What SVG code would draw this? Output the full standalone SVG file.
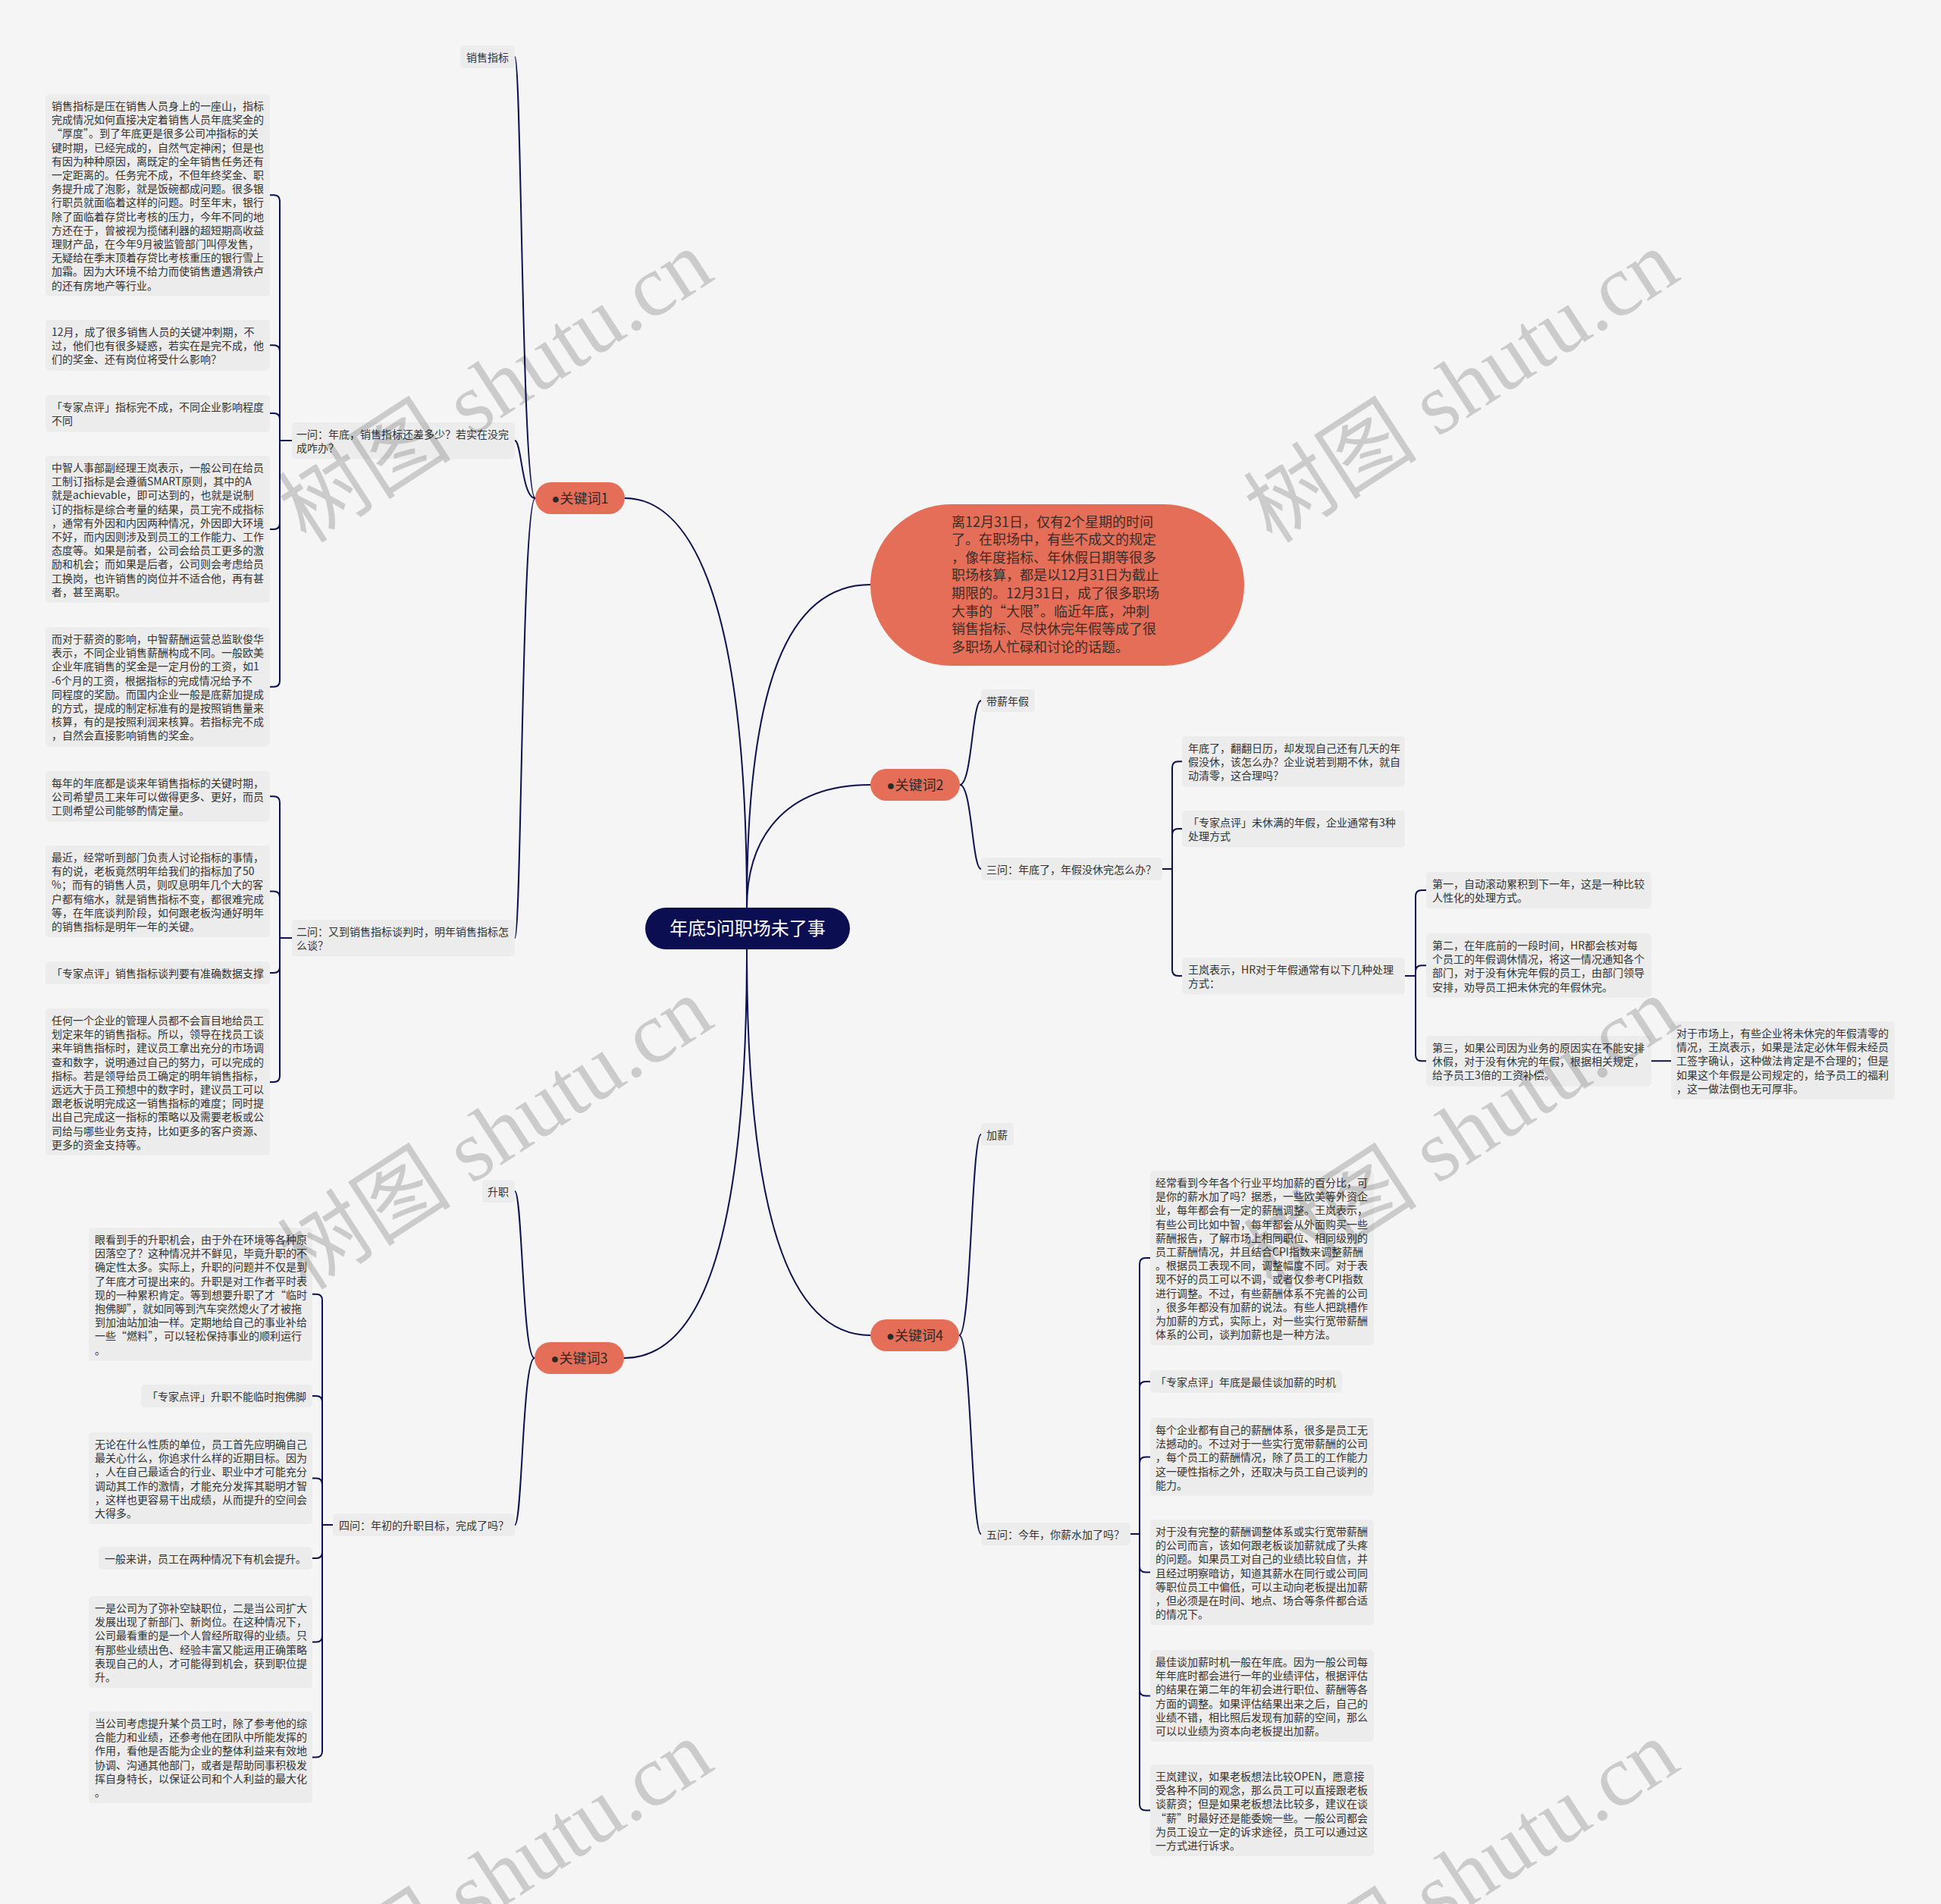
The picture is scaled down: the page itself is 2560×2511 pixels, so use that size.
<svg xmlns="http://www.w3.org/2000/svg" width="2560" height="2511" viewBox="0 0 2560 2511">
<style>
.bg{fill:#f5f5f5}
.box{fill:#ececec}
.t{font-family:"Noto Sans CJK SC","Noto Sans",sans-serif;font-size:14px;fill:#333}
.kw{fill:#e46e57}
.kt{font-family:"Noto Sans CJK SC",sans-serif;font-size:18px;fill:#2a2a2a}
.bl{font-family:"Liberation Sans",sans-serif}
.bt{font-family:"Noto Sans CJK SC",sans-serif;font-size:18px;fill:#3a2d28}
.root{fill:#0b0f52}
.rt{font-family:"Noto Sans CJK SC",sans-serif;font-size:24px;fill:#fff}
.ln{fill:none;stroke:#0e1150;stroke-width:2}
.wm{font-family:"Liberation Serif","Noto Sans CJK SC",serif;font-size:115px;fill:#000;fill-opacity:0.17}
</style>
<rect class="bg" x="0" y="0" width="2560" height="2511"/>

<g id="connectors">
<path class="ln" d="M985 1197C985 760 900 657 824 657"/>
<path class="ln" d="M985 1197C985 900 1040 771 1148 771"/>
<path class="ln" d="M985 1197C985 1110 1030 1035 1148 1035"/>
<path class="ln" d="M985 1252C985 1620 930 1791 823 1791"/>
<path class="ln" d="M985 1252C985 1600 1040 1761 1148 1761"/>
<path class="ln" d="M706 657C688 657 688 75 679 75"/>
<path class="ln" d="M706 657C688 657 688 581 679 581"/>
<path class="ln" d="M706 657C688 657 688 1237 679 1237"/>
<path class="ln" d="M1266 1035C1282 1035 1282 924 1294 924"/>
<path class="ln" d="M1266 1035C1282 1035 1282 1146 1294 1146"/>
<path class="ln" d="M705 1791C689 1791 689 1571 679 1571"/>
<path class="ln" d="M705 1791C689 1791 689 2011 679 2011"/>
<path class="ln" d="M1265 1761C1281 1761 1281 1496 1294 1496"/>
<path class="ln" d="M1265 1761C1281 1761 1281 2023 1294 2023"/>
<path class="ln" d="M385 581H369V265.3Q369 257.3 361 257.3H356"/>
<path class="ln" d="M385 581H369V463.2Q369 455.2 361 455.2H356"/>
<path class="ln" d="M385 581H369V553.1Q369 545.1 361 545.1H356"/>
<path class="ln" d="M385 581H369V689.9Q369 697.9 361 697.9H356"/>
<path class="ln" d="M385 581H369V897.7Q369 905.7 361 905.7H356"/>
<path class="ln" d="M385 1237H369V1058.2Q369 1050.2 361 1050.2H356"/>
<path class="ln" d="M385 1237H369V1183.5Q369 1175.5 361 1175.5H356"/>
<path class="ln" d="M385 1237H369V1275Q369 1283 361 1283H356"/>
<path class="ln" d="M385 1237H369V1418.9Q369 1426.9 361 1426.9H356"/>
<path class="ln" d="M439 2011H425V1714.8Q425 1706.8 417 1706.8H412"/>
<path class="ln" d="M439 2011H425V1849Q425 1841 417 1841H412"/>
<path class="ln" d="M439 2011H425V1957.5Q425 1949.5 417 1949.5H412"/>
<path class="ln" d="M439 2011H425V2047Q425 2055 417 2055H412"/>
<path class="ln" d="M439 2011H425V2157.5Q425 2165.5 417 2165.5H412"/>
<path class="ln" d="M439 2011H425V2309.5Q425 2317.5 417 2317.5H412"/>
<path class="ln" d="M1533 1146H1546V1012.2Q1546 1004.2 1554 1004.2H1559"/>
<path class="ln" d="M1533 1146H1546V1101Q1546 1093 1554 1093H1559"/>
<path class="ln" d="M1533 1146H1546V1279Q1546 1287 1554 1287H1559"/>
<path class="ln" d="M1853 1287H1867V1182Q1867 1174 1875 1174H1881"/>
<path class="ln" d="M1853 1287H1867V1281.3Q1867 1273.3 1875 1273.3H1881"/>
<path class="ln" d="M1853 1287H1867V1391.2Q1867 1399.2 1875 1399.2H1881"/>
<path class="ln" d="M2178 1399.2H2204"/>
<path class="ln" d="M1491 2023H1503V1667Q1503 1659 1511 1659H1517"/>
<path class="ln" d="M1491 2023H1503V1830Q1503 1822 1511 1822H1517"/>
<path class="ln" d="M1491 2023H1503V1929.4Q1503 1921.4 1511 1921.4H1517"/>
<path class="ln" d="M1491 2023H1503V2065.6Q1503 2073.6 1511 2073.6H1517"/>
<path class="ln" d="M1491 2023H1503V2228.5Q1503 2236.5 1511 2236.5H1517"/>
<path class="ln" d="M1491 2023H1503V2379.5Q1503 2387.5 1511 2387.5H1517"/>
</g>

<g id="n-root">
<rect class="root" x="851" y="1197" width="270" height="55" rx="27.5"/>
<text class="rt" x="986" y="1233" text-anchor="middle">年底5问职场未了事</text>
</g>

<g id="n-bubble">
<rect class="kw" x="1148" y="665" width="493" height="213" rx="106.5"/>
<text class="bt" x="1255" y="694.5"><tspan x="1255">离12月31日，仅有2个星期的时间</tspan><tspan x="1255" dy="23.6">了。在职场中，有些不成文的规定</tspan><tspan x="1255" dy="23.6">，像年度指标、年休假日期等很多</tspan><tspan x="1255" dy="23.6">职场核算，都是以12月31日为截止</tspan><tspan x="1255" dy="23.6">期限的。12月31日，成了很多职场</tspan><tspan x="1255" dy="23.6">大事的“大限”。临近年底，冲刺</tspan><tspan x="1255" dy="23.6">销售指标、尽快休完年假等成了很</tspan><tspan x="1255" dy="23.6">多职场人忙碌和讨论的话题。</tspan></text>
</g>

<g id="n-k1">
<rect class="kw" x="706" y="636" width="118" height="42" rx="21"/>
<text class="kt" x="765" y="663.5" text-anchor="middle"><tspan class="bl">●</tspan>关键词1</text>
</g>
<g id="n-k2">
<rect class="kw" x="1148" y="1014" width="118" height="42" rx="21"/>
<text class="kt" x="1207" y="1041.5" text-anchor="middle"><tspan class="bl">●</tspan>关键词2</text>
</g>
<g id="n-k3">
<rect class="kw" x="705" y="1770" width="118" height="42" rx="21"/>
<text class="kt" x="764" y="1797.5" text-anchor="middle"><tspan class="bl">●</tspan>关键词3</text>
</g>
<g id="n-k4">
<rect class="kw" x="1148" y="1740" width="117" height="42" rx="21"/>
<text class="kt" x="1206.5" y="1767.5" text-anchor="middle"><tspan class="bl">●</tspan>关键词4</text>
</g>

<g id="n-xszb">
<rect class="box" x="607" y="60" width="72" height="30" rx="5"/>
<text class="t" x="615" y="81">销售指标</text>
</g>
<g id="n-q1">
<rect class="box" x="385" y="557" width="294" height="48.2" rx="5"/>
<text class="t" x="391" y="578"><tspan x="391">一问：年底，销售指标还差多少？若实在没完</tspan><tspan x="391" dy="18.2">成咋办？</tspan></text>
</g>
<g id="n-q1-a">
<rect class="box" x="60" y="124" width="296" height="266.6" rx="5"/>
<text class="t" x="68" y="145"><tspan x="68">销售指标是压在销售人员身上的一座山，指标</tspan><tspan x="68" dy="18.2">完成情况如何直接决定着销售人员年底奖金的</tspan><tspan x="68" dy="18.2">“厚度”。到了年底更是很多公司冲指标的关</tspan><tspan x="68" dy="18.2">键时期，已经完成的，自然气定神闲；但是也</tspan><tspan x="68" dy="18.2">有因为种种原因，离既定的全年销售任务还有</tspan><tspan x="68" dy="18.2">一定距离的。任务完不成，不但年终奖金、职</tspan><tspan x="68" dy="18.2">务提升成了泡影，就是饭碗都成问题。很多银</tspan><tspan x="68" dy="18.2">行职员就面临着这样的问题。时至年末，银行</tspan><tspan x="68" dy="18.2">除了面临着存贷比考核的压力，今年不同的地</tspan><tspan x="68" dy="18.2">方还在于，曾被视为揽储利器的超短期高收益</tspan><tspan x="68" dy="18.2">理财产品，在今年9月被监管部门叫停发售，</tspan><tspan x="68" dy="18.2">无疑给在季末顶着存贷比考核重压的银行雪上</tspan><tspan x="68" dy="18.2">加霜。因为大环境不给力而使销售遭遇滑铁卢</tspan><tspan x="68" dy="18.2">的还有房地产等行业。</tspan></text>
</g>
<g id="n-q1-b">
<rect class="box" x="60" y="422" width="296" height="66.4" rx="5"/>
<text class="t" x="68" y="443"><tspan x="68">12月，成了很多销售人员的关键冲刺期，不</tspan><tspan x="68" dy="18.2">过，他们也有很多疑惑，若实在是完不成，他</tspan><tspan x="68" dy="18.2">们的奖金、还有岗位将受什么影响？</tspan></text>
</g>
<g id="n-q1-c">
<rect class="box" x="60" y="521" width="296" height="48.2" rx="5"/>
<text class="t" x="68" y="542"><tspan x="68">「专家点评」指标完不成，不同企业影响程度</tspan><tspan x="68" dy="18.2">不同</tspan></text>
</g>
<g id="n-q1-d">
<rect class="box" x="60" y="601" width="296" height="193.8" rx="5"/>
<text class="t" x="68" y="622"><tspan x="68">中智人事部副经理王岚表示，一般公司在给员</tspan><tspan x="68" dy="18.2">工制订指标是会遵循SMART原则，其中的A</tspan><tspan x="68" dy="18.2">就是achievable，即可达到的，也就是说制</tspan><tspan x="68" dy="18.2">订的指标是综合考量的结果，员工完不成指标</tspan><tspan x="68" dy="18.2">，通常有外因和内因两种情况，外因即大环境</tspan><tspan x="68" dy="18.2">不好，而内因则涉及到员工的工作能力、工作</tspan><tspan x="68" dy="18.2">态度等。如果是前者，公司会给员工更多的激</tspan><tspan x="68" dy="18.2">励和机会；而如果是后者，公司则会考虑给员</tspan><tspan x="68" dy="18.2">工换岗，也许销售的岗位并不适合他，再有甚</tspan><tspan x="68" dy="18.2">者，甚至离职。</tspan></text>
</g>
<g id="n-q1-e">
<rect class="box" x="60" y="827" width="296" height="157.4" rx="5"/>
<text class="t" x="68" y="848"><tspan x="68">而对于薪资的影响，中智薪酬运营总监耿俊华</tspan><tspan x="68" dy="18.2">表示，不同企业销售薪酬构成不同。一般欧美</tspan><tspan x="68" dy="18.2">企业年底销售的奖金是一定月份的工资，如1</tspan><tspan x="68" dy="18.2">-6个月的工资，根据指标的完成情况给予不</tspan><tspan x="68" dy="18.2">同程度的奖励。而国内企业一般是底薪加提成</tspan><tspan x="68" dy="18.2">的方式，提成的制定标准有的是按照销售量来</tspan><tspan x="68" dy="18.2">核算，有的是按照利润来核算。若指标完不成</tspan><tspan x="68" dy="18.2">，自然会直接影响销售的奖金。</tspan></text>
</g>

<g id="n-q2">
<rect class="box" x="385" y="1213" width="294" height="48.2" rx="5"/>
<text class="t" x="391" y="1234"><tspan x="391">二问：又到销售指标谈判时，明年销售指标怎</tspan><tspan x="391" dy="18.2">么谈？</tspan></text>
</g>
<g id="n-q2-a">
<rect class="box" x="60" y="1017" width="296" height="66.4" rx="5"/>
<text class="t" x="68" y="1038"><tspan x="68">每年的年底都是谈来年销售指标的关键时期，</tspan><tspan x="68" dy="18.2">公司希望员工来年可以做得更多、更好，而员</tspan><tspan x="68" dy="18.2">工则希望公司能够酌情定量。</tspan></text>
</g>
<g id="n-q2-b">
<rect class="box" x="60" y="1115" width="296" height="121" rx="5"/>
<text class="t" x="68" y="1136"><tspan x="68">最近，经常听到部门负责人讨论指标的事情，</tspan><tspan x="68" dy="18.2">有的说，老板竟然明年给我们的指标加了50</tspan><tspan x="68" dy="18.2">%；而有的销售人员，则叹息明年几个大的客</tspan><tspan x="68" dy="18.2">户都有缩水，就是销售指标不变，都很难完成</tspan><tspan x="68" dy="18.2">等，在年底谈判阶段，如何跟老板沟通好明年</tspan><tspan x="68" dy="18.2">的销售指标是明年一年的关键。</tspan></text>
</g>
<g id="n-q2-c">
<rect class="box" x="60" y="1268" width="296" height="30" rx="5"/>
<text class="t" x="68" y="1289">「专家点评」销售指标谈判要有准确数据支撑</text>
</g>
<g id="n-q2-d">
<rect class="box" x="60" y="1330" width="296" height="193.8" rx="5"/>
<text class="t" x="68" y="1351"><tspan x="68">任何一个企业的管理人员都不会盲目地给员工</tspan><tspan x="68" dy="18.2">划定来年的销售指标。所以，领导在找员工谈</tspan><tspan x="68" dy="18.2">来年销售指标时，建议员工拿出充分的市场调</tspan><tspan x="68" dy="18.2">查和数字，说明通过自己的努力，可以完成的</tspan><tspan x="68" dy="18.2">指标。若是领导给员工确定的明年销售指标，</tspan><tspan x="68" dy="18.2">远远大于员工预想中的数字时，建议员工可以</tspan><tspan x="68" dy="18.2">跟老板说明完成这一销售指标的难度；同时提</tspan><tspan x="68" dy="18.2">出自己完成这一指标的策略以及需要老板或公</tspan><tspan x="68" dy="18.2">司给与哪些业务支持，比如更多的客户资源、</tspan><tspan x="68" dy="18.2">更多的资金支持等。</tspan></text>
</g>

<g id="n-sz">
<rect class="box" x="636" y="1556" width="43" height="30" rx="5"/>
<text class="t" x="643" y="1577">升职</text>
</g>
<g id="n-q4">
<rect class="box" x="439" y="1996" width="240" height="30" rx="5"/>
<text class="t" x="447" y="2017">四问：年初的升职目标，完成了吗？</text>
</g>
<g id="n-q4-a">
<rect class="box" x="117" y="1619" width="295" height="175.6" rx="5"/>
<text class="t" x="125" y="1640"><tspan x="125">眼看到手的升职机会，由于外在环境等各种原</tspan><tspan x="125" dy="18.2">因落空了？这种情况并不鲜见，毕竟升职的不</tspan><tspan x="125" dy="18.2">确定性太多。实际上，升职的问题并不仅是到</tspan><tspan x="125" dy="18.2">了年底才可提出来的。升职是对工作者平时表</tspan><tspan x="125" dy="18.2">现的一种累积肯定。等到想要升职了才“临时</tspan><tspan x="125" dy="18.2">抱佛脚”，就如同等到汽车突然熄火了才被拖</tspan><tspan x="125" dy="18.2">到加油站加油一样。定期地给自己的事业补给</tspan><tspan x="125" dy="18.2">一些“燃料”，可以轻松保持事业的顺利运行</tspan><tspan x="125" dy="18.2">。</tspan></text>
</g>
<g id="n-q4-b">
<rect class="box" x="186" y="1826" width="226" height="30" rx="5"/>
<text class="t" x="194" y="1847">「专家点评」升职不能临时抱佛脚</text>
</g>
<g id="n-q4-c">
<rect class="box" x="117" y="1889" width="295" height="121" rx="5"/>
<text class="t" x="125" y="1910"><tspan x="125">无论在什么性质的单位，员工首先应明确自己</tspan><tspan x="125" dy="18.2">最关心什么，你追求什么样的近期目标。因为</tspan><tspan x="125" dy="18.2">，人在自己最适合的行业、职业中才可能充分</tspan><tspan x="125" dy="18.2">调动其工作的激情，才能充分发挥其聪明才智</tspan><tspan x="125" dy="18.2">，这样也更容易干出成绩，从而提升的空间会</tspan><tspan x="125" dy="18.2">大得多。</tspan></text>
</g>
<g id="n-q4-d">
<rect class="box" x="130" y="2040" width="282" height="30" rx="5"/>
<text class="t" x="138" y="2061">一般来讲，员工在两种情况下有机会提升。</text>
</g>
<g id="n-q4-e">
<rect class="box" x="117" y="2105" width="295" height="121" rx="5"/>
<text class="t" x="125" y="2126"><tspan x="125">一是公司为了弥补空缺职位，二是当公司扩大</tspan><tspan x="125" dy="18.2">发展出现了新部门、新岗位。在这种情况下，</tspan><tspan x="125" dy="18.2">公司最看重的是一个人曾经所取得的业绩。只</tspan><tspan x="125" dy="18.2">有那些业绩出色、经验丰富又能运用正确策略</tspan><tspan x="125" dy="18.2">表现自己的人，才可能得到机会，获到职位提</tspan><tspan x="125" dy="18.2">升。</tspan></text>
</g>
<g id="n-q4-f">
<rect class="box" x="117" y="2257" width="295" height="121" rx="5"/>
<text class="t" x="125" y="2278"><tspan x="125">当公司考虑提升某个员工时，除了参考他的综</tspan><tspan x="125" dy="18.2">合能力和业绩，还参考他在团队中所能发挥的</tspan><tspan x="125" dy="18.2">作用，看他是否能为企业的整体利益来有效地</tspan><tspan x="125" dy="18.2">协调、沟通其他部门，或者是帮助同事积极发</tspan><tspan x="125" dy="18.2">挥自身特长，以保证公司和个人利益的最大化</tspan><tspan x="125" dy="18.2">。</tspan></text>
</g>

<g id="n-dxnj">
<rect class="box" x="1294" y="909" width="71" height="30" rx="5"/>
<text class="t" x="1301" y="930">带薪年假</text>
</g>
<g id="n-q3">
<rect class="box" x="1294" y="1131" width="239" height="30" rx="5"/>
<text class="t" x="1301" y="1152">三问：年底了，年假没休完怎么办？</text>
</g>
<g id="n-q3-a">
<rect class="box" x="1559" y="971" width="294" height="66.4" rx="5"/>
<text class="t" x="1567" y="992"><tspan x="1567">年底了，翻翻日历，却发现自己还有几天的年</tspan><tspan x="1567" dy="18.2">假没休，该怎么办？企业说若到期不休，就自</tspan><tspan x="1567" dy="18.2">动清零，这合理吗？</tspan></text>
</g>
<g id="n-q3-b">
<rect class="box" x="1559" y="1069" width="294" height="48.2" rx="5"/>
<text class="t" x="1567" y="1090"><tspan x="1567">「专家点评」未休满的年假，企业通常有3种</tspan><tspan x="1567" dy="18.2">处理方式</tspan></text>
</g>
<g id="n-q3-c">
<rect class="box" x="1559" y="1263" width="294" height="48.2" rx="5"/>
<text class="t" x="1567" y="1284"><tspan x="1567">王岚表示，HR对于年假通常有以下几种处理</tspan><tspan x="1567" dy="18.2">方式：</tspan></text>
</g>
<g id="n-q3-c1">
<rect class="box" x="1881" y="1150" width="297" height="48.2" rx="5"/>
<text class="t" x="1889" y="1171"><tspan x="1889">第一，自动滚动累积到下一年，这是一种比较</tspan><tspan x="1889" dy="18.2">人性化的处理方式。</tspan></text>
</g>
<g id="n-q3-c2">
<rect class="box" x="1881" y="1231" width="297" height="84.6" rx="5"/>
<text class="t" x="1889" y="1252"><tspan x="1889">第二，在年底前的一段时间，HR都会核对每</tspan><tspan x="1889" dy="18.2">个员工的年假调休情况，将这一情况通知各个</tspan><tspan x="1889" dy="18.2">部门，对于没有休完年假的员工，由部门领导</tspan><tspan x="1889" dy="18.2">安排，劝导员工把未休完的年假休完。</tspan></text>
</g>
<g id="n-q3-c3">
<rect class="box" x="1881" y="1366" width="297" height="66.4" rx="5"/>
<text class="t" x="1889" y="1387"><tspan x="1889">第三，如果公司因为业务的原因实在不能安排</tspan><tspan x="1889" dy="18.2">休假，对于没有休完的年假，根据相关规定，</tspan><tspan x="1889" dy="18.2">给予员工3倍的工资补偿。</tspan></text>
</g>
<g id="n-q3-c3a">
<rect class="box" x="2204" y="1347" width="295" height="102.8" rx="5"/>
<text class="t" x="2211" y="1368"><tspan x="2211">对于市场上，有些企业将未休完的年假清零的</tspan><tspan x="2211" dy="18.2">情况，王岚表示，如果是法定必休年假未经员</tspan><tspan x="2211" dy="18.2">工签字确认，这种做法肯定是不合理的；但是</tspan><tspan x="2211" dy="18.2">如果这个年假是公司规定的，给予员工的福利</tspan><tspan x="2211" dy="18.2">，这一做法倒也无可厚非。</tspan></text>
</g>

<g id="n-jx">
<rect class="box" x="1294" y="1481" width="43" height="30" rx="5"/>
<text class="t" x="1301" y="1502">加薪</text>
</g>
<g id="n-q5">
<rect class="box" x="1294" y="2008" width="197" height="30" rx="5"/>
<text class="t" x="1301" y="2029">五问：今年，你薪水加了吗？</text>
</g>
<g id="n-q5-a">
<rect class="box" x="1517" y="1544" width="295" height="230.2" rx="5"/>
<text class="t" x="1524" y="1565"><tspan x="1524">经常看到今年各个行业平均加薪的百分比，可</tspan><tspan x="1524" dy="18.2">是你的薪水加了吗？据悉，一些欧美等外资企</tspan><tspan x="1524" dy="18.2">业，每年都会有一定的薪酬调整。王岚表示，</tspan><tspan x="1524" dy="18.2">有些公司比如中智，每年都会从外面购买一些</tspan><tspan x="1524" dy="18.2">薪酬报告，了解市场上相同职位、相同级别的</tspan><tspan x="1524" dy="18.2">员工薪酬情况，并且结合CPI指数来调整薪酬</tspan><tspan x="1524" dy="18.2">。根据员工表现不同，调整幅度不同。对于表</tspan><tspan x="1524" dy="18.2">现不好的员工可以不调，或者仅参考CPI指数</tspan><tspan x="1524" dy="18.2">进行调整。不过，有些薪酬体系不完善的公司</tspan><tspan x="1524" dy="18.2">，很多年都没有加薪的说法。有些人把跳槽作</tspan><tspan x="1524" dy="18.2">为加薪的方式，实际上，对一些实行宽带薪酬</tspan><tspan x="1524" dy="18.2">体系的公司，谈判加薪也是一种方法。</tspan></text>
</g>
<g id="n-q5-b">
<rect class="box" x="1517" y="1807" width="253" height="30" rx="5"/>
<text class="t" x="1524" y="1828">「专家点评」年底是最佳谈加薪的时机</text>
</g>
<g id="n-q5-c">
<rect class="box" x="1517" y="1870" width="295" height="102.8" rx="5"/>
<text class="t" x="1524" y="1891"><tspan x="1524">每个企业都有自己的薪酬体系，很多是员工无</tspan><tspan x="1524" dy="18.2">法撼动的。不过对于一些实行宽带薪酬的公司</tspan><tspan x="1524" dy="18.2">，每个员工的薪酬情况，除了员工的工作能力</tspan><tspan x="1524" dy="18.2">这一硬性指标之外，还取决与员工自己谈判的</tspan><tspan x="1524" dy="18.2">能力。</tspan></text>
</g>
<g id="n-q5-d">
<rect class="box" x="1517" y="2004" width="295" height="139.2" rx="5"/>
<text class="t" x="1524" y="2025"><tspan x="1524">对于没有完整的薪酬调整体系或实行宽带薪酬</tspan><tspan x="1524" dy="18.2">的公司而言，该如何跟老板谈加薪就成了头疼</tspan><tspan x="1524" dy="18.2">的问题。如果员工对自己的业绩比较自信，并</tspan><tspan x="1524" dy="18.2">且经过明察暗访，知道其薪水在同行或公司同</tspan><tspan x="1524" dy="18.2">等职位员工中偏低，可以主动向老板提出加薪</tspan><tspan x="1524" dy="18.2">，但必须是在时间、地点、场合等条件都合适</tspan><tspan x="1524" dy="18.2">的情况下。</tspan></text>
</g>
<g id="n-q5-e">
<rect class="box" x="1517" y="2176" width="295" height="121" rx="5"/>
<text class="t" x="1524" y="2197"><tspan x="1524">最佳谈加薪时机一般在年底。因为一般公司每</tspan><tspan x="1524" dy="18.2">年年底时都会进行一年的业绩评估，根据评估</tspan><tspan x="1524" dy="18.2">的结果在第二年的年初会进行职位、薪酬等各</tspan><tspan x="1524" dy="18.2">方面的调整。如果评估结果出来之后，自己的</tspan><tspan x="1524" dy="18.2">业绩不错，相比照后发现有加薪的空间，那么</tspan><tspan x="1524" dy="18.2">可以以业绩为资本向老板提出加薪。</tspan></text>
</g>
<g id="n-q5-f">
<rect class="box" x="1517" y="2327" width="295" height="121" rx="5"/>
<text class="t" x="1524" y="2348"><tspan x="1524">王岚建议，如果老板想法比较OPEN，愿意接</tspan><tspan x="1524" dy="18.2">受各种不同的观念，那么员工可以直接跟老板</tspan><tspan x="1524" dy="18.2">谈薪资；但是如果老板想法比较多，建议在谈</tspan><tspan x="1524" dy="18.2">“薪”时最好还是能委婉一些。一般公司都会</tspan><tspan x="1524" dy="18.2">为员工设立一定的诉求途径，员工可以通过这</tspan><tspan x="1524" dy="18.2">一方式进行诉求。</tspan></text>
</g>

<g id="watermarks">
<text class="wm" x="653" y="549" text-anchor="middle" transform="rotate(-33 653 509)">树图 shutu.cn</text>
<text class="wm" x="1927" y="549" text-anchor="middle" transform="rotate(-33 1927 509)">树图 shutu.cn</text>
<text class="wm" x="653" y="1534" text-anchor="middle" transform="rotate(-33 653 1494)">树图 shutu.cn</text>
<text class="wm" x="1927" y="1534" text-anchor="middle" transform="rotate(-33 1927 1494)">树图 shutu.cn</text>
<text class="wm" x="653" y="2514" text-anchor="middle" transform="rotate(-33 653 2474)">树图 shutu.cn</text>
<text class="wm" x="1927" y="2514" text-anchor="middle" transform="rotate(-33 1927 2474)">树图 shutu.cn</text>
</g>
</svg>
